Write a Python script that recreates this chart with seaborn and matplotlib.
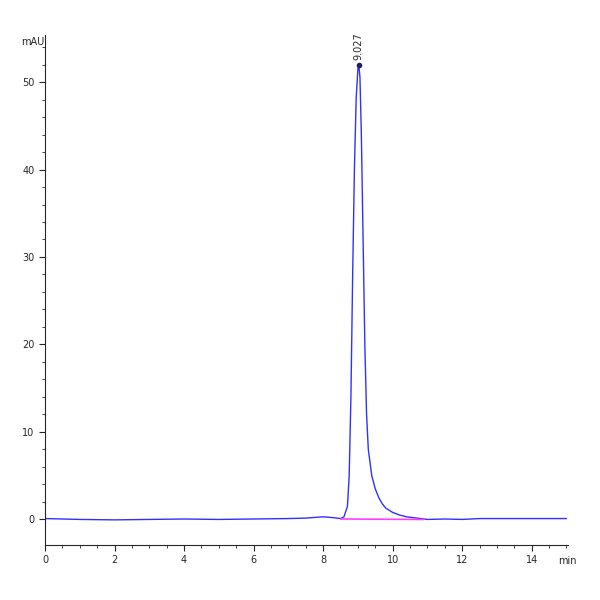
import matplotlib
matplotlib.use("Agg")
import matplotlib.pyplot as plt
import seaborn as sns
import pandas as pd

time_min = [0.0, 1.0, 2.0, 3.0, 4.0, 5.0, 6.0, 7.0, 7.5, 8.0, 8.3, 8.5, 8.6, 8.7, 8.75, 8.8, 8.85, 8.9,
            8.95, 9.0, 9.027, 9.06, 9.1, 9.15, 9.2, 9.25, 9.3, 9.4, 9.5, 9.6, 9.7, 9.8, 10.0, 10.2,
            10.4, 10.6, 10.8, 11.0, 11.5, 12.0, 12.5, 13.0, 14.0, 15.0]
signal_mau = [0.1, 0.0, -0.05, 0.0, 0.05, 0.0, 0.05, 0.1, 0.15, 0.3, 0.2, 0.1, 0.3, 1.5, 5.0, 14.0, 28.0, 40.0,
              48.0, 51.5, 52.0, 50.5, 44.0, 32.0, 20.0, 12.0, 8.0, 5.0, 3.5, 2.5, 1.8, 1.3, 0.8, 0.5,
              0.3, 0.2, 0.1, 0.0, 0.05, 0.0, 0.1, 0.1, 0.1, 0.1]
baseline_t = [8.5, 10.9]
baseline_v = [0.05, 0.0]
peak_label = "9.027"

sns.set_style("ticks")
fig = plt.figure(figsize=(6, 6), dpi=100)
ax = fig.add_axes([0.075, 0.092, 0.872, 0.85])
df = pd.DataFrame({"t": time_min, "v": signal_mau})
sns.lineplot(data=df, x="t", y="v", ax=ax, color="#3030ff", lw=1.0)
ax.plot(baseline_t, baseline_v, color="#ff40ff", lw=1.2)
ax.plot([9.027], [52.0], "o", color="#202060", ms=3)
ax.text(9.027, 52.5, peak_label, rotation=90, ha="center", va="bottom", fontsize=7)
ax.set_xlim(0, 15.05)
ax.set_ylim(-2.9, 55.4)
ax.set_xticks(range(0, 15, 2))
ax.set_xticks([i * 0.5 for i in range(31)], minor=True)
ax.set_yticks([0, 10, 20, 30, 40, 50])
ax.set_yticks(range(0, 56, 2), minor=True)
ax.tick_params(labelsize=7, length=4)
ax.tick_params(which="minor", length=2)
ax.set_xlabel("")
ax.set_ylabel("")
for s in ["top", "right"]:
    ax.spines[s].set_visible(False)
fig.text(0.035, 0.925, "mAU", fontsize=7)
fig.text(0.93, 0.06, "min", fontsize=7)
fig.savefig("out.png", dpi=100, facecolor="white")
